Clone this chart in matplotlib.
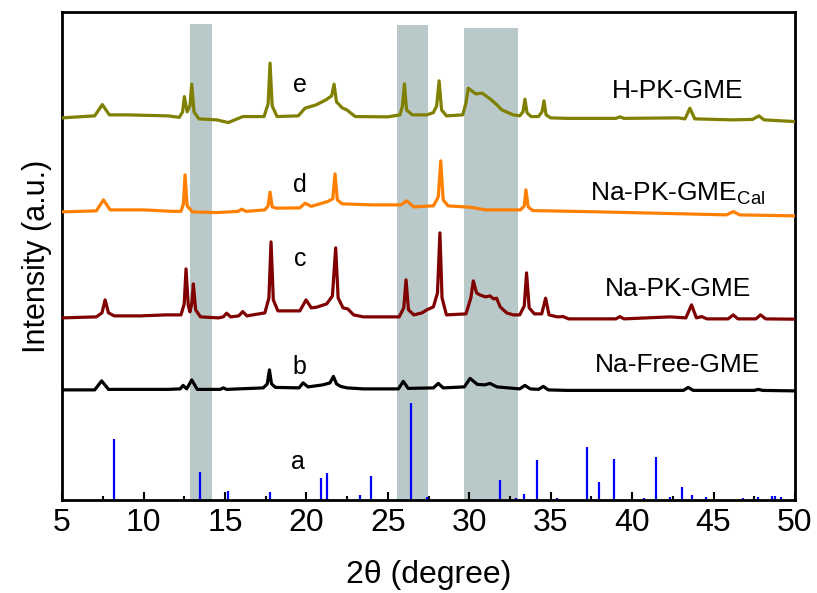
import matplotlib
matplotlib.use("Agg")
import matplotlib.pyplot as plt
import numpy as np

plt.rcParams["font.family"] = ["Liberation Sans", "DejaVu Sans"]
plt.rcParams["mathtext.fontset"] = "custom"
plt.rcParams["mathtext.rm"] = "Liberation Sans"

# Reference pattern (a): stick positions (2theta) and relative intensity (%)
ref_pos = [8.17, 13.45, 15.17, 17.75, 20.88, 21.29, 23.29, 23.99, 26.45, 27.4,
           31.9, 32.85, 33.34, 34.16, 35.37, 37.21, 37.97, 38.9, 40.75, 41.44,
           42.34, 43.04, 43.67, 44.55, 46.8, 47.74, 48.57, 48.77, 49.14]
ref_int = [63, 29, 9, 8, 23, 28, 5, 25, 100, 3,
           21, 2, 6, 41, 2, 55, 18, 42, 2, 44,
           3, 13, 5, 3, 2, 3, 4, 4, 3]

# Measured patterns (2theta, intensity above own baseline)
b_pattern = [(5.0, 1), (7.0, 1), (7.43, 10), (7.85, 1.5), (11.5, 1.5), (12.25, 2),
             (12.43, 5.5), (12.65, 2), (12.96, 11), (13.3, 1.5), (14.7, 1.5), (14.9, 3),
             (15.1, 1.5), (17.35, 3), (17.6, 7), (17.73, 21), (17.86, 7), (18.1, 3.5),
             (19.55, 3), (19.8, 8), (20.1, 4), (21.0, 6), (21.45, 8), (21.66, 14.5),
             (21.85, 7), (22.1, 4.5), (22.5, 3), (23.5, 2), (25.65, 2), (25.95, 9.5),
             (26.25, 2.5), (27.8, 3), (28.1, 7.5), (28.4, 3), (29.7, 4), (30.05, 12.5),
             (30.5, 6.5), (30.95, 6), (31.27, 7.5), (31.7, 4), (33.1, 2), (33.42, 5.5),
             (33.75, 2), (34.25, 1.5), (34.55, 4.5), (34.85, 1), (36.0, 0.5), (43.15, 0.5),
             (43.45, 3.5), (43.75, 0.5), (47.5, 0.5), (47.75, 1.5), (48.0, 0.5), (50.0, 0)]

c_pattern = [(5.0, 0), (7.1, 1), (7.45, 5), (7.64, 18), (7.85, 5), (8.2, 2), (9.8, 2),
             (11.4, 3), (12.3, 3), (12.5, 14), (12.61, 49), (12.75, 12), (12.85, 6),
             (12.97, 15), (13.06, 34), (13.2, 8), (13.5, 1), (14.6, 0), (14.9, 1),
             (15.1, 4.7), (15.35, 1), (15.85, 2), (16.09, 6.3), (16.35, 2), (17.45, 5),
             (17.7, 20), (17.83, 76), (17.97, 18), (18.25, 7), (19.6, 7), (19.98, 18),
             (20.3, 10), (20.63, 10.7), (21.25, 14), (21.6, 22), (21.8, 70), (21.95, 20),
             (22.25, 10), (22.54, 9), (22.9, 3), (23.5, 1), (25.7, 1), (25.98, 10),
             (26.12, 38), (26.27, 8), (26.6, 3), (27.1, 5), (27.39, 8), (27.8, 11),
             (28.05, 25), (28.2, 85), (28.33, 20), (28.6, 3), (29.8, 4), (30.1, 20),
             (30.25, 37), (30.45, 25), (30.65, 23), (31.0, 21), (31.27, 22), (31.5, 19),
             (31.68, 19.7), (31.9, 11), (32.3, 5), (32.7, 3), (33.1, 3), (33.38, 12),
             (33.52, 45), (33.68, 10), (34.0, 4), (34.45, 4), (34.69, 19.7), (34.9, 3),
             (35.4, 1), (35.77, 1.3), (36.1, -1), (39.0, -1), (39.25, 1.3), (39.5, -1),
             (42.32, 1), (43.3, 0), (43.65, 13), (43.95, 0), (44.27, 1.3), (44.6, -1),
             (45.9, -1), (46.21, 3), (46.5, -1), (47.6, -1), (47.89, 3), (48.2, -1),
             (50.0, -1.3)]

d_pattern = [(5.0, 0), (7.1, 1), (7.54, 12), (7.95, 2), (10.0, 2), (11.8, 0.5), (12.3, 0.5),
             (12.45, 8), (12.55, 37), (12.68, 6), (13.0, 0), (14.5, -0.7), (15.8, 0.5),
             (16.03, 2.7), (16.3, 0.5), (17.45, 2), (17.65, 6), (17.77, 19.7), (17.9, 5),
             (18.15, 3.7), (19.6, 4), (19.92, 8.7), (20.3, 5.5), (21.3, 10.3), (21.62, 13),
             (21.76, 38), (21.9, 12), (22.2, 8), (24.0, 7), (25.8, 7), (26.16, 11),
             (26.6, 5), (27.8, 6), (28.1, 15), (28.25, 51), (28.4, 12), (28.7, 6),
             (29.7, 5), (30.05, 4.7), (31.0, 2), (33.15, 2), (33.38, 6), (33.48, 22),
             (33.62, 5), (33.9, 1.3), (38.0, 0), (45.8, -3), (46.21, 0.3), (46.6, -3),
             (50.0, -4)]

e_pattern = [(5.0, 0), (7.0, 2), (7.47, 13.3), (7.9, 3), (9.0, 3), (11.5, 2), (12.2, 0.5),
             (12.4, 6), (12.51, 21.3), (12.68, 6), (12.85, 12), (12.96, 33.7), (13.1, 6),
             (13.4, -1), (14.5, -2), (15.2, -4.7), (16.1, 1.3), (17.4, 1.3), (17.65, 14),
             (17.77, 54.7), (17.9, 12), (18.2, 1.3), (19.5, 2), (19.92, 9.7), (20.6, 13),
             (21.2, 18), (21.55, 22), (21.7, 33.7), (21.85, 16), (22.2, 10), (22.48, 8),
             (23.0, 1.3), (25.0, 1), (25.75, 3), (25.9, 12), (26.02, 34), (26.15, 8),
             (26.5, 3), (27.4, 3), (27.8, 5.3), (28.0, 12), (28.15, 37), (28.3, 8),
             (28.6, 2), (29.6, 3), (29.8, 15), (29.94, 29.7), (30.4, 24), (30.8, 24.7),
             (31.3, 18.7), (31.7, 13), (32.0, 8), (32.7, 3), (33.1, 2), (33.3, 6),
             (33.42, 18.7), (33.55, 5), (33.8, 1.3), (34.25, 1.3), (34.47, 6), (34.59, 17),
             (34.72, 3), (35.0, 0), (36.0, -0.5), (39.0, -0.5), (39.25, 1), (39.5, -0.5),
             (42.84, 0), (43.25, -1), (43.55, 9.7), (43.85, -1), (46.21, -2), (47.4, -1.5),
             (47.79, 2), (48.1, -2), (50.0, -3.7)]

sample_names = ["Na-Free-GME", "Na-PK-GME", r"Na-PK-GME$_{\mathrm{Cal}}$", "H-PK-GME"]
curve_letters = ["b", "c", "d", "e"]

# Highlighted 2theta ranges (start, end)
bands = [(12.86, 14.21), (25.58, 27.45), (29.68, 33.0)]

# Drawing setup
patterns = [b_pattern, c_pattern, d_pattern, e_pattern]
colors = ["black", "#800000", "#FF8000", "#808000"]
offsets = [109, 182, 288, 382]
band_tops = [476, 475, 471.7]
letter_y = [125.7, 234.3, 308.3, 408.3]
name_y = [128.3, 204, 299, 402.3]

fig, ax = plt.subplots(figsize=(8.17, 5.93), dpi=100)
fig.subplots_adjust(left=0.076, right=0.973, bottom=0.157, top=0.98)

# Gray bands behind the patterns
for (start, end), top in zip(bands, band_tops):
    ax.bar(start, top, width=end - start, align="edge", color="#B9C9C9", zorder=1)

# Reference sticks
ax.vlines(ref_pos, 0, np.array(ref_int) * 0.97, color="#0000FF", lw=1.6, zorder=2)
ax.text(19.47, 30.7, "a", fontsize=18, ha="center", va="baseline")

# Stacked patterns
for pattern, color, offset, letter, ly, name, ny in zip(
        patterns, colors, offsets, curve_letters, letter_y, sample_names, name_y):
    arr = np.array(pattern)
    ax.plot(arr[:, 0], arr[:, 1] + offset, color=color, lw=2.3, zorder=3)
    ax.text(19.6, ly, letter, fontsize=18, ha="center", va="baseline")
    ax.text(42.8, ny, name, fontsize=19, ha="center", va="baseline")

ax.set_xlim(5, 50)
ax.set_ylim(0, 488)
ax.set_xticks(np.arange(5, 51, 5))
ax.set_xticks(np.arange(7.5, 50, 5), minor=True)
ax.set_yticks([])
ax.tick_params(axis="x", which="major", direction="in", length=6, width=1.5,
               labelsize=23, pad=6)
ax.tick_params(axis="x", which="minor", direction="in", length=3, width=1.5)
for spine in ax.spines.values():
    spine.set_linewidth(2)

ax.set_xlabel("2θ (degree)", fontsize=23, labelpad=16)
ax.set_ylabel("Intensity (a.u.)", fontsize=22, labelpad=7)

plt.savefig("out.png", dpi=100)
